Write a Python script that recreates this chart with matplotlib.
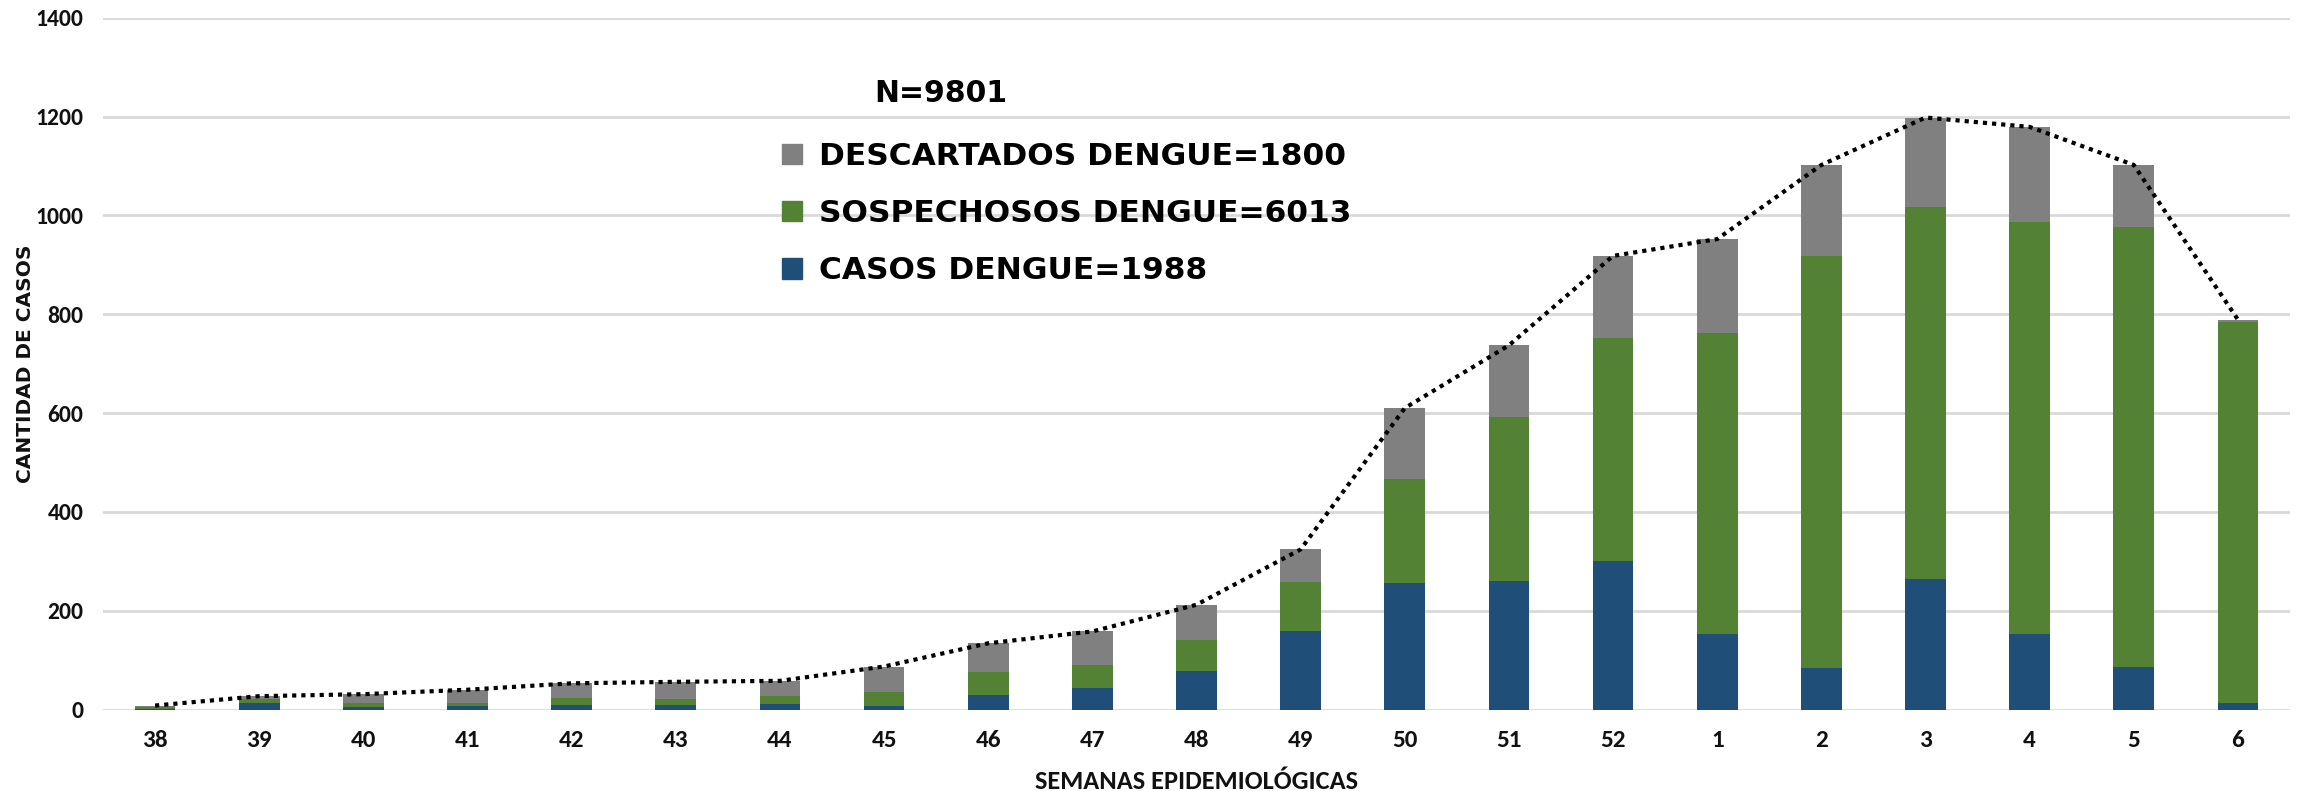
import matplotlib
matplotlib.use("Agg")
import matplotlib.pyplot as plt
from matplotlib.patches import Patch
import numpy as np

# Semanas epidemiologicas (38-52 y 1-6)
semanas = ["38", "39", "40", "41", "42", "43", "44", "45", "46", "47", "48",
           "49", "50", "51", "52", "1", "2", "3", "4", "5", "6"]

casos = [1, 13, 6, 8, 10, 10, 12, 7, 30, 44, 77,
         158, 257, 261, 301, 153, 84, 264, 153, 86, 13]
sospechosos = [5, 9, 7, 5, 13, 12, 16, 29, 45, 47, 63,
               101, 209, 331, 450, 608, 834, 753, 834, 890, 772]
descartados = [2, 5, 18, 27, 30, 34, 30, 51, 59, 67, 72,
               65, 144, 145, 167, 191, 184, 181, 192, 126, 4]

col_casos = "#1F4E79"
col_sosp = "#548235"
col_desc = "#808080"

calibri = ["Carlito", "DejaVu Sans"]
wide = ["DejaVu Sans"]

fig = plt.figure(figsize=(23.13, 7.91), dpi=100)
ax = fig.add_axes([103 / 2313, 1 - 709.5 / 791, (2290 - 103) / 2313, (709.5 - 17.7) / 791])

x = np.arange(len(semanas))
casos = np.array(casos)
sospechosos = np.array(sospechosos)
descartados = np.array(descartados)
total = casos + sospechosos + descartados

w = 0.39
ax.bar(x, casos, w, color=col_casos, zorder=2)
ax.bar(x, sospechosos, w, bottom=casos, color=col_sosp, zorder=2)
ax.bar(x, descartados, w, bottom=casos + sospechosos, color=col_desc, zorder=2)
ax.plot(x, total, color="black", lw=3, linestyle=(0, (1, 1.2)), zorder=3)

ax.set_xlim(-0.5, len(semanas) - 0.5)
ax.set_ylim(0, 1400)
ax.set_yticks(range(0, 1401, 200))
ax.grid(axis="y", color="#D9D9D9", lw=2, zorder=0)
ax.set_axisbelow(True)
for s in ax.spines.values():
    s.set_visible(False)
ax.tick_params(length=0)
ax.tick_params(axis="y", pad=14)
ax.tick_params(axis="x", pad=15)

ax.set_xticks(x)
ax.set_xticklabels(semanas, fontfamily=calibri, fontweight="bold", fontsize=18, color="#111111")
for lab in ax.get_yticklabels():
    lab.set_fontfamily(calibri)
    lab.set_fontweight("bold")
    lab.set_fontsize(17)
    lab.set_color("#111111")

ax.set_xlabel("SEMANAS EPIDEMIOLÓGICAS", fontfamily=calibri, fontweight="bold",
              fontsize=19, color="#111111", va="center")
ax.xaxis.set_label_coords(0.5, -0.104)
ax.set_ylabel("CANTIDAD DE CASOS", fontfamily=wide, fontweight="bold",
              fontsize=14.5, color="#111111", va="center")
ax.yaxis.set_label_coords(-0.0353, 0.5)

fig.text(941 / 2313, 1 - 93 / 791, "N=9801", ha="center", va="center",
         fontfamily=wide, fontweight="bold", fontsize=21.5)

handles = [Patch(color=col_desc), Patch(color=col_sosp), Patch(color=col_casos)]
labels = ["DESCARTADOS DENGUE=1800", "SOSPECHOSOS DENGUE=6013", "CASOS DENGUE=1988"]
fig.legend(handles, labels, loc="upper left", bbox_to_anchor=(782 / 2313, 1 - 142 / 791),
           frameon=False, prop={"family": wide, "weight": "bold", "size": 22.5},
           handlelength=0.64, handleheight=0.64, handletextpad=0.55, labelspacing=0.9,
           borderaxespad=0, borderpad=0)

fig.savefig("out.png", dpi=100)
